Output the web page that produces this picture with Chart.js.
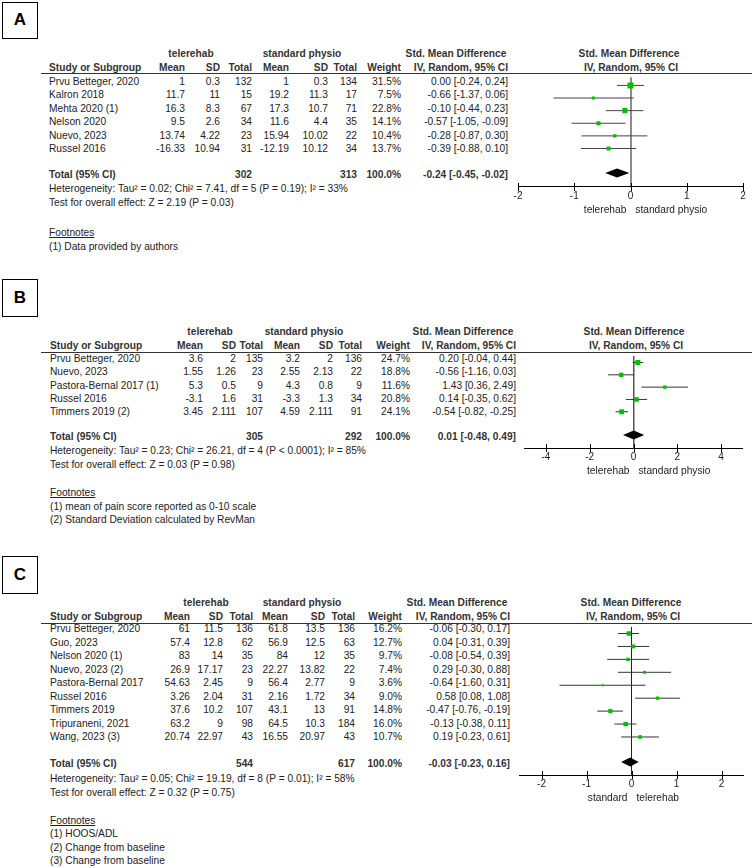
<!DOCTYPE html>
<html>
<head>
<meta charset="utf-8">
<script src="https://cdn.jsdelivr.net/npm/chart.js@4.4.0/dist/chart.umd.min.js"></script>
<style>
  html, body { margin: 0; padding: 0; background: #fff; }
  #page { position: relative; width: 754px; height: 868px; overflow: hidden;
          font-family: "Liberation Sans", Arial, sans-serif; font-size: 10.2px; color: #222; }
  .t { position: absolute; line-height: 12px; white-space: nowrap; }
  .b { font-weight: bold; color: #333; }
  .u { text-decoration: underline; }
  .box { position: absolute; box-sizing: border-box; border: 1.5px solid #000; color: #000;
         font: bold 17px "Liberation Sans", Arial, sans-serif; text-align: center; }
  .rule { position: absolute; height: 1px; background: #333; }
  canvas { position: absolute; }
</style>
</head>
<body>
<div id="page"></div>
<script>
// ---- panel A : data ----
var studiesA = ['Prvu Betteger, 2020', 'Kalron 2018', 'Mehta 2020 (1)', 'Nelson 2020', 'Nuevo, 2023', 'Russel 2016'];
var teleMeanA = [1, 11.7, 16.3, 9.5, 13.74, -16.33];
var teleSdA = [0.3, 11, 8.3, 2.6, 4.22, 10.94];
var teleNA = [132, 15, 67, 34, 23, 31];
var stdMeanA = [1, 19.2, 17.3, 11.6, 15.94, -12.19];
var stdSdA = [0.3, 11.3, 10.7, 4.4, 10.02, 10.12];
var stdNA = [134, 17, 71, 35, 22, 34];
var weightA = [31.5, 7.5, 22.8, 14.1, 10.4, 13.7];
var smdA = [0.00, -0.66, -0.10, -0.57, -0.28, -0.39];
var loA = [-0.24, -1.37, -0.44, -1.05, -0.87, -0.88];
var hiA = [0.24, 0.06, 0.23, -0.09, 0.30, 0.10];
var totalA = [-0.24, -0.45, -0.02];
var totalNA = [302, 313];
var hetA = 'Heterogeneity: Tau² = 0.02; Chi² = 7.41, df = 5 (P = 0.19); I² = 33%';
var testA = 'Test for overall effect: Z = 2.19 (P = 0.03)';
var footA = ['(1) Data provided by authors'];
var ticksA = [-2, -1, 0, 1, 2];
var sidesA = ['telerehab', 'standard physio'];

// ---- panel B : data ----
var studiesB = ['Prvu Betteger, 2020', 'Nuevo, 2023', 'Pastora-Bernal 2017 (1)', 'Russel 2016', 'Timmers 2019 (2)'];
var teleMeanB = [3.6, 1.55, 5.3, -3.1, 3.45];
var teleSdB = [2, 1.26, 0.5, 1.6, 2.111];
var teleNB = [135, 23, 9, 31, 107];
var stdMeanB = [3.2, 2.55, 4.3, -3.3, 4.59];
var stdSdB = [2, 2.13, 0.8, 1.3, 2.111];
var stdNB = [136, 22, 9, 34, 91];
var weightB = [24.7, 18.8, 11.6, 20.8, 24.1];
var smdB = [0.20, -0.56, 1.43, 0.14, -0.54];
var loB = [-0.04, -1.16, 0.36, -0.35, -0.82];
var hiB = [0.44, 0.03, 2.49, 0.62, -0.25];
var totalB = [0.01, -0.48, 0.49];
var totalNB = [305, 292];
var hetB = 'Heterogeneity: Tau² = 0.23; Chi² = 26.21, df = 4 (P < 0.0001); I² = 85%';
var testB = 'Test for overall effect: Z = 0.03 (P = 0.98)';
var footB = ['(1) mean of pain score reported as 0-10 scale', '(2) Standard Deviation calculated by RevMan'];
var ticksB = [-4, -2, 0, 2, 4];
var sidesB = ['telerehab', 'standard physio'];

// ---- panel C : data ----
var studiesC = ['Prvu Betteger, 2020', 'Guo, 2023', 'Nelson 2020 (1)', 'Nuevo, 2023 (2)', 'Pastora-Bernal 2017',
                'Russel 2016', 'Timmers 2019', 'Tripuraneni, 2021', 'Wang, 2023 (3)'];
var teleMeanC = [61, 57.4, 83, 26.9, 54.63, 3.26, 37.6, 63.2, 20.74];
var teleSdC = [11.5, 12.8, 14, 17.17, 2.45, 2.04, 10.2, 9, 22.97];
var teleNC = [136, 62, 35, 23, 9, 31, 107, 98, 43];
var stdMeanC = [61.8, 56.9, 84, 22.27, 56.4, 2.16, 43.1, 64.5, 16.55];
var stdSdC = [13.5, 12.5, 12, 13.82, 2.77, 1.72, 13, 10.3, 20.97];
var stdNC = [136, 63, 35, 22, 9, 34, 91, 184, 43];
var weightC = [16.2, 12.7, 9.7, 7.4, 3.6, 9.0, 14.8, 16.0, 10.7];
var smdC = [-0.06, 0.04, -0.08, 0.29, -0.64, 0.58, -0.47, -0.13, 0.19];
var loC = [-0.30, -0.31, -0.54, -0.30, -1.60, 0.08, -0.76, -0.38, -0.23];
var hiC = [0.17, 0.39, 0.39, 0.88, 0.31, 1.08, -0.19, 0.11, 0.61];
var totalC = [-0.03, -0.23, 0.16];
var totalNC = [544, 617];
var hetC = 'Heterogeneity: Tau² = 0.05; Chi² = 19.19, df = 8 (P = 0.01); I² = 58%';
var testC = 'Test for overall effect: Z = 0.32 (P = 0.75)';
var footC = ['(1) HOOS/ADL', '(2) Change from baseline', '(3) Change from baseline'];
var ticksC = [-2, -1, 0, 1, 2];
var sidesC = ['standard', 'telerehab'];

var page = document.getElementById('page');

function txt(s, x, y, align, cls) {
    var d = document.createElement('div');
    d.className = 't' + (cls ? ' ' + cls : '');
    d.textContent = s;
    d.style.top = (y - 6) + 'px';
    if (align === 'r') {
        d.style.left = (x - 300) + 'px'; d.style.width = '300px'; d.style.textAlign = 'right';
    } else if (align === 'c') {
        d.style.left = (x - 150) + 'px'; d.style.width = '300px'; d.style.textAlign = 'center';
    } else {
        d.style.left = x + 'px';
    }
    page.appendChild(d);
}

function ci(e, l, h) {
    return e.toFixed(2) + ' [' + l.toFixed(2) + ', ' + h.toFixed(2) + ']';
}

function drawPanel(p) {
    var c = p.cols;
    var box = document.createElement('div');
    box.className = 'box';
    box.style.left = p.box[0] + 'px'; box.style.top = p.box[1] + 'px';
    box.style.width = p.box[2] + 'px'; box.style.height = p.box[3] + 'px';
    box.style.lineHeight = (p.box[3] - 3) + 'px';
    box.textContent = p.letter;
    page.appendChild(box);

    // headers
    txt('telerehab', p.groupX[0], p.groupY, 'c', 'b');
    txt('standard physio', p.groupX[1], p.groupY, 'c', 'b');
    txt('Std. Mean Difference', p.smdX, p.groupY, 'c', 'b');
    txt('Std. Mean Difference', p.plotHeadX, p.groupY, 'c', 'b');
    txt('Study or Subgroup', c.name, p.headY, 'l', 'b');
    txt('Mean', c.mean, p.headY, 'r', 'b');
    txt('SD', c.sd, p.headY, 'r', 'b');
    txt('Total', c.n, p.headY, 'r', 'b');
    txt('Mean', c.mean2, p.headY, 'r', 'b');
    txt('SD', c.sd2, p.headY, 'r', 'b');
    txt('Total', c.n2, p.headY, 'r', 'b');
    txt('Weight', c.weight, p.headY, 'r', 'b');
    txt('IV, Random, 95% CI', c.ci, p.headY, 'r', 'b');
    txt('IV, Random, 95% CI', p.plotHeadX + 2, p.headY, 'c', 'b');

    var rule = document.createElement('div');
    rule.className = 'rule';
    rule.style.left = '41px'; rule.style.width = '711px'; rule.style.top = p.lineY + 'px';
    page.appendChild(rule);

    p.studies.forEach(function (s, i) {
        var y = p.row0 + i * p.step;
        txt(s, c.name, y, 'l');
        txt(String(p.teleMean[i]), c.mean, y, 'r');
        txt(String(p.teleSd[i]), c.sd, y, 'r');
        txt(String(p.teleN[i]), c.n, y, 'r');
        txt(String(p.stdMean[i]), c.mean2, y, 'r');
        txt(String(p.stdSd[i]), c.sd2, y, 'r');
        txt(String(p.stdN[i]), c.n2, y, 'r');
        txt(p.weight[i].toFixed(1) + '%', c.weight, y, 'r');
        txt(ci(p.smd[i], p.lo[i], p.hi[i]), c.ci, y, 'r');
    });

    txt('Total (95% CI)', c.name, p.totalY, 'l', 'b');
    txt(String(p.totalN[0]), c.n, p.totalY, 'r', 'b');
    txt(String(p.totalN[1]), c.n2, p.totalY, 'r', 'b');
    txt('100.0%', c.weight, p.totalY, 'r', 'b');
    txt(ci(p.total[0], p.total[1], p.total[2]), c.ci, p.totalY, 'r', 'b');
    txt(p.het, c.name, p.hetY, 'l');
    txt(p.test, c.name, p.testY, 'l');
    txt('Footnotes', c.name, p.footY, 'l', 'u');
    p.foot.forEach(function (f, i) {
        txt(f, c.name, p.footY + (i + 1) * p.footStep, 'l');
    });

    forest(p);
}

function forest(p) {
    var padX = 12, axisH = 15;
    var cv = document.createElement('canvas');
    cv.width = Math.round(p.axisR - p.axisL + 2 * padX);
    cv.height = Math.round(p.axisY - p.lineY + axisH);
    cv.style.left = (p.axisL - padX) + 'px';
    cv.style.top = p.lineY + 'px';
    page.appendChild(cv);

    var yMin = -(p.row0 - p.lineY) / p.step;
    var yMax = yMin + (p.axisY - p.lineY) / p.step;
    var totalIdx = (p.totalY - p.row0) / p.step;
    var zeroX = 0;

    var datasets = [{
        type: 'scatter',
        data: p.smd.map(function (v, i) { return { x: v, y: i }; }),
        pointStyle: 'rect',
        pointRadius: p.weight.map(function (w) { return p.sq * Math.sqrt(w) / Math.SQRT2; }),
        backgroundColor: '#00c000',
        borderWidth: 0,
        order: 0
    }];
    p.lo.forEach(function (lo, i) {
        datasets.push({
            type: 'line',
            data: [{ x: lo, y: i }, { x: p.hi[i], y: i }],
            borderColor: p.ciColor,
            borderWidth: 1,
            pointRadius: 0,
            order: 1
        });
    });

    var marks = {
        id: 'marks',
        afterDraw: function (chart) {
            var xs = chart.scales.x, ys = chart.scales.y, ctx = chart.ctx;
            ctx.save();
            ctx.strokeStyle = '#000';
            ctx.lineWidth = 1;
            xs.ticks.forEach(function (t) {
                var px = Math.round(xs.getPixelForValue(t.value)) + 0.5;
                ctx.beginPath();
                ctx.moveTo(px, xs.top - 4);
                ctx.lineTo(px, xs.top + 4);
                ctx.stroke();
            });
            var yc = ys.getPixelForValue(totalIdx);
            ctx.fillStyle = '#000';
            ctx.beginPath();
            ctx.moveTo(xs.getPixelForValue(p.total[1]), yc);
            ctx.lineTo(xs.getPixelForValue(p.total[0]), yc - 4.5);
            ctx.lineTo(xs.getPixelForValue(p.total[2]), yc);
            ctx.lineTo(xs.getPixelForValue(p.total[0]), yc + 4.5);
            ctx.closePath();
            ctx.fill();
            ctx.restore();
        }
    };

    new Chart(cv, {
        type: 'scatter',
        data: { datasets: datasets },
        options: {
            responsive: false,
            animation: false,
            events: [],
            layout: { padding: { left: padX, right: padX, top: 0, bottom: 0 } },
            plugins: { legend: { display: false }, tooltip: { enabled: false } },
            scales: {
                x: {
                    type: 'linear',
                    min: p.xMin,
                    max: p.xMax,
                    afterBuildTicks: function (s) {
                        s.ticks = p.ticks.map(function (v) { return { value: v }; });
                    },
                    grid: {
                        drawTicks: false,
                        color: function (c) { return c.tick && c.tick.value === zeroX ? p.zeroColor : 'rgba(0,0,0,0)'; },
                        lineWidth: function (c) { return c.tick && c.tick.value === zeroX ? p.zeroW : 0; }
                    },
                    border: { display: true, color: '#000', width: 1 },
                    ticks: { padding: 3, color: '#222', font: { family: 'Liberation Sans', size: 10 } }
                },
                y: { type: 'linear', display: false, reverse: true, min: yMin, max: yMax }
            }
        },
        plugins: [marks]
    });

    var zpx = p.axisL + (0 - p.xMin) / (p.xMax - p.xMin) * (p.axisR - p.axisL);
    txt(p.sides[0], zpx - 4, p.labY, 'r');
    txt(p.sides[1], zpx + 5, p.labY, 'l');
}

drawPanel({
    letter: 'A', box: [2, 2, 36, 37],
    studies: studiesA, teleMean: teleMeanA, teleSd: teleSdA, teleN: teleNA,
    stdMean: stdMeanA, stdSd: stdSdA, stdN: stdNA, weight: weightA,
    smd: smdA, lo: loA, hi: hiA, total: totalA, totalN: totalNA,
    het: hetA, test: testA, foot: footA, ticks: ticksA, sides: sidesA,
    groupY: 53.5, headY: 68, lineY: 73, row0: 81.7, step: 13.45, totalY: 175,
    hetY: 189, testY: 203, footY: 233, footStep: 14,
    cols: { name: 49, mean: 185, sd: 220, n: 252, mean2: 289, sd2: 328, n2: 357, weight: 401, ci: 508 },
    groupX: [191, 302], smdX: 456, plotHeadX: 629,
    axisL: 517.7, axisR: 743, xMin: -2, xMax: 2, axisY: 190, labY: 210,
    zeroColor: '#8c8c8c', zeroW: 2, ciColor: '#444', sq: 1.07
});

drawPanel({
    letter: 'B', box: [2, 279, 36, 38],
    studies: studiesB, teleMean: teleMeanB, teleSd: teleSdB, teleN: teleNB,
    stdMean: stdMeanB, stdSd: stdSdB, stdN: stdNB, weight: weightB,
    smd: smdB, lo: loB, hi: hiB, total: totalB, totalN: totalNB,
    het: hetB, test: testB, foot: footB, ticks: ticksB, sides: sidesB,
    groupY: 332, headY: 345.5, lineY: 352, row0: 359, step: 13.25, totalY: 437,
    hetY: 451, testY: 464.5, footY: 493, footStep: 13.5,
    cols: { name: 50, mean: 203, sd: 236, n: 263, mean2: 300, sd2: 333, n2: 362, weight: 410, ci: 516 },
    groupX: [210, 304], smdX: 463, plotHeadX: 634,
    axisL: 524, axisR: 743, xMin: -5, xMax: 5, axisY: 451, labY: 471,
    zeroColor: '#555', zeroW: 1.5, ciColor: '#333', sq: 1.0
});

drawPanel({
    letter: 'C', box: [2, 556, 36, 38],
    studies: studiesC, teleMean: teleMeanC, teleSd: teleSdC, teleN: teleNC,
    stdMean: stdMeanC, stdSd: stdSdC, stdN: stdNC, weight: weightC,
    smd: smdC, lo: loC, hi: hiC, total: totalC, totalN: totalNC,
    het: hetC, test: testC, foot: footC, ticks: ticksC, sides: sidesC,
    groupY: 603, headY: 617, lineY: 622.5, row0: 629.3, step: 13.5, totalY: 763.5,
    hetY: 779, testY: 793, footY: 821, footStep: 13.4,
    cols: { name: 50, mean: 190, sd: 223, n: 253, mean2: 288, sd2: 325, n2: 355, weight: 402, ci: 510 },
    groupX: [206, 302], smdX: 457, plotHeadX: 631,
    axisL: 519, axisR: 744, xMin: -2.5, xMax: 2.5, axisY: 777, labY: 798,
    zeroColor: '#222', zeroW: 1, ciColor: '#333', sq: 1.1
});
</script>
</body>
</html>
